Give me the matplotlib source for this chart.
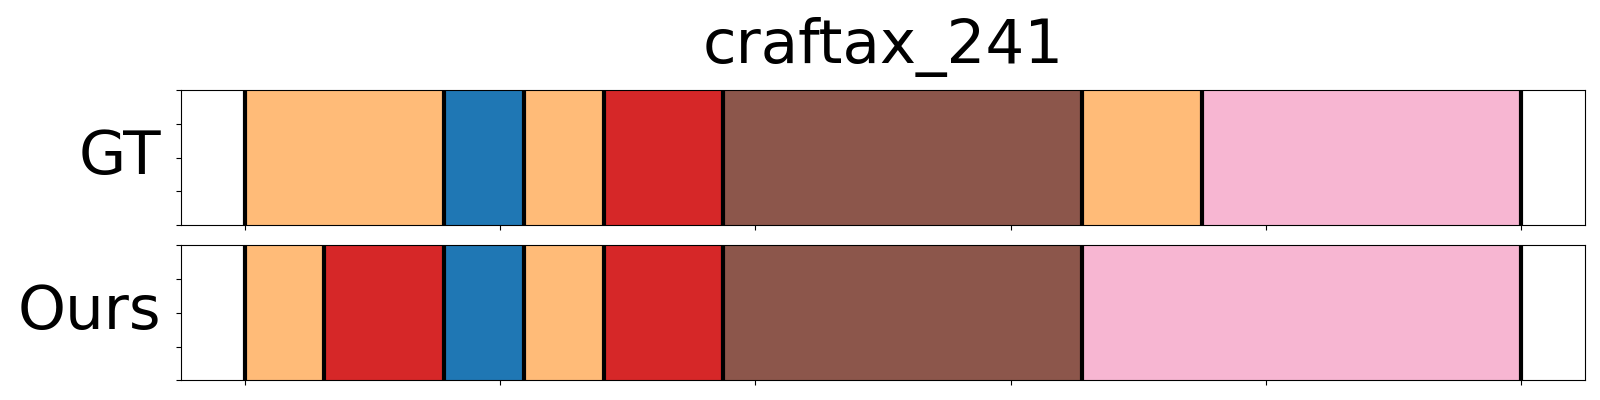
import matplotlib
matplotlib.use("Agg")
import matplotlib.pyplot as plt
import numpy as np

title = "craftax_241"
row_labels = ["GT", "Ours"]
total_frames = 32

gt_bounds = [0, 5, 7, 9, 12, 21, 24, 32]
gt_classes = [3, 0, 3, 6, 10, 3, 13]

ours_bounds = [0, 2, 5, 7, 9, 12, 21, 32]
ours_classes = [3, 6, 0, 3, 6, 10, 13]

x_ticks = [0.0, 0.2, 0.4, 0.6, 0.8, 1.0]
y_ticks = [0.0, 0.25, 0.5, 0.75, 1.0]

cmap = plt.get_cmap("tab20")

fig = plt.figure(figsize=(16, 4), dpi=100)
ax1 = fig.add_axes([0.113, 0.4375, 0.8776, 0.3367])
ax2 = fig.add_axes([0.113, 0.049, 0.8776, 0.3377])

for ax, bounds, classes, lab in [(ax1, gt_bounds, gt_classes, row_labels[0]),
                                 (ax2, ours_bounds, ours_classes, row_labels[1])]:
    b = np.array(bounds) / total_frames
    for i, c in enumerate(classes):
        ax.axvspan(b[i], b[i + 1], ymin=0, ymax=1, color=cmap(c))
    for x in b:
        ax.axvline(x, color="black", lw=3)
    ax.set_ylim(0, 1)
    ax.set_xlim(-0.05, 1.05)
    ax.set_xticks(x_ticks)
    ax.set_xticklabels([])
    ax.set_yticks(y_ticks)
    ax.set_yticklabels([])
    ax.set_ylabel(lab, rotation=0, fontsize=44, ha="right", va="center", labelpad=7)

ax1.set_title(title, fontsize=44, pad=20)

fig.savefig("out.png", dpi=100)
